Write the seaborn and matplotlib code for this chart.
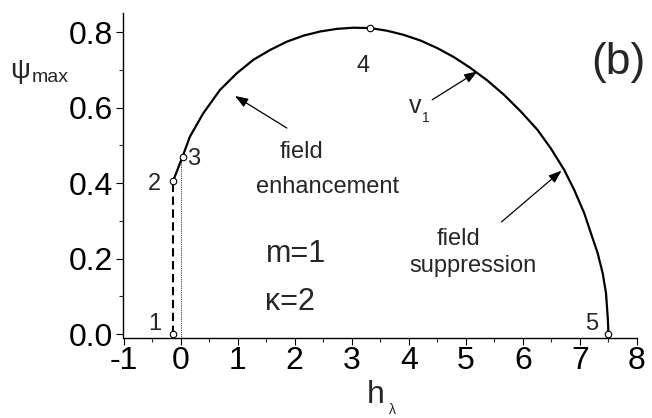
import matplotlib
matplotlib.use("Agg")
import matplotlib.pyplot as plt
from matplotlib.ticker import MultipleLocator
import seaborn as sns
import pandas as pd

# v1 branch: maximum order parameter versus reduced field h_lambda
h_curve = [-0.13, 0.035, 0.163, 0.397, 0.691, 0.984, 1.276, 1.569, 1.863, 2.155,
           2.448, 2.742, 3.033, 3.327, 3.620, 3.912, 4.206, 4.499, 4.791, 5.084,
           5.378, 5.670, 5.963, 6.257, 6.490, 6.724, 6.900, 7.076, 7.193, 7.311,
           7.399, 7.457, 7.490, 7.500]
psi_curve = [0.406, 0.470, 0.523, 0.585, 0.647, 0.691, 0.727, 0.753, 0.775, 0.791,
             0.802, 0.809, 0.812, 0.811, 0.804, 0.793, 0.778, 0.758, 0.734, 0.705,
             0.672, 0.634, 0.590, 0.541, 0.492, 0.435, 0.382, 0.320, 0.267, 0.214,
             0.161, 0.108, 0.037, 0.0]

# labelled special points 1..5
pt_labels = ["1", "2", "3", "4", "5"]
pt_h = [-0.13, -0.13, 0.035, 3.327, 7.50]
pt_psi = [0.0, 0.406, 0.470, 0.811, 0.0]

x_ticks = [-1, 0, 1, 2, 3, 4, 5, 6, 7, 8]
y_ticks = [0.0, 0.2, 0.4, 0.6, 0.8]

sns.set_style("ticks")
plt.rcParams["font.family"] = ["Liberation Sans", "DejaVu Sans"]

fig = plt.figure(figsize=(6.52, 4.18), dpi=100)
ax = fig.add_axes([123.5 / 652, 1 - 338 / 418, (637 - 123.5) / 652, (338 - 13) / 418])

curve = pd.DataFrame({"h": h_curve, "psi": psi_curve})
sns.lineplot(data=curve, x="h", y="psi", sort=False, estimator=None,
             color="black", lw=1.6, ax=ax)
ax.lines[-1].set_solid_joinstyle("round")

# jump between points 1 and 2, and the h = 0 guide up to point 3
ax.plot([pt_h[0], pt_h[1]], [pt_psi[0], pt_psi[1]], color="black", lw=1.5,
        dashes=(4, 2.2))
ax.plot([0, 0], [-0.011, pt_psi[2]], color="black", lw=0.6, ls=(0, (1, 1.2)))

pts = pd.DataFrame({"h": pt_h, "psi": pt_psi})
sns.scatterplot(data=pts, x="h", y="psi", marker="o", s=22, facecolor="white",
                edgecolor="black", linewidth=0.8, zorder=5, ax=ax)

# point labels
lab_pos = [(-0.45, 0.011), (-0.45, 0.382), (0.233, 0.448), (3.20, 0.695), (7.21, 0.011)]
for lab, (lx, ly) in zip(pt_labels, lab_pos):
    ax.text(lx, ly, lab, fontsize=17, ha="center", va="baseline")

ax.set_xlim(-1, 8)
ax.set_ylim(-0.0106, 0.851)
ax.set_xticks(x_ticks)
ax.set_yticks(y_ticks)
ax.set_xticklabels([str(t) for t in x_ticks])
ax.set_yticklabels([f"{t:.1f}" for t in y_ticks])
ax.xaxis.set_minor_locator(MultipleLocator(0.5))
ax.yaxis.set_minor_locator(MultipleLocator(0.1))
ax.tick_params(which="major", direction="out", length=4.8, width=0.8,
               labelsize=23, colors="black")
ax.tick_params(axis="x", which="major", pad=1)
ax.tick_params(axis="y", which="major", pad=3)
ax.tick_params(which="minor", direction="out", length=2.6, width=0.8)
for side in ("top", "right"):
    ax.spines[side].set_visible(False)
for side in ("left", "bottom"):
    ax.spines[side].set_linewidth(1.0)
    ax.spines[side].set_color("black")
ax.set_xlabel("")
ax.set_ylabel("")

# axis titles
fig.text(376 / 652, 1 - 403 / 418, "h", fontsize=23, ha="center", va="baseline")
fig.text(392 / 652, 1.5 / 418, "λ", fontsize=10, ha="center", va="bottom")
fig.text(20 / 652, 1 - 71 / 418, "ψ", fontsize=20, ha="center", va="center")
fig.text(50 / 652, 1 - 82 / 418, "max", fontsize=14, ha="center", va="baseline")

# panel tag and parameters
ax.text(7.67, 0.690, "(b)", fontsize=32, ha="center", va="baseline")
ax.text(1.49, 0.191, "m=1", fontsize=22, ha="left", va="baseline")
ax.text(1.48, 0.0636, "κ=2", fontsize=22, ha="left", va="baseline")

# region annotations
arrow = dict(arrowstyle="-|>,head_length=0.6,head_width=0.22", color="black",
             lw=0.9, mutation_scale=13, shrinkA=0, shrinkB=0)
ax.text(2.114, 0.4668, "field", fontsize=17, ha="center", va="baseline")
ax.text(2.571, 0.374, "enhancement", fontsize=17, ha="center", va="baseline")
ax.annotate("", xy=(0.954, 0.631), xytext=(1.863, 0.546), arrowprops=arrow)

ax.text(4.865, 0.236, "field", fontsize=17, ha="center", va="baseline")
ax.text(5.128, 0.164, "suppression", fontsize=17, ha="center", va="baseline")
ax.annotate("", xy=(6.678, 0.433), xytext=(5.624, 0.297), arrowprops=arrow)

ax.text(4.118, 0.586, "v", fontsize=18, ha="center", va="baseline")
ax.text(4.29, 0.562, "1", fontsize=10, ha="center", va="baseline")
ax.annotate("", xy=(5.202, 0.696), xytext=(4.411, 0.621), arrowprops=arrow)

fig.savefig("out.png", dpi=100)
